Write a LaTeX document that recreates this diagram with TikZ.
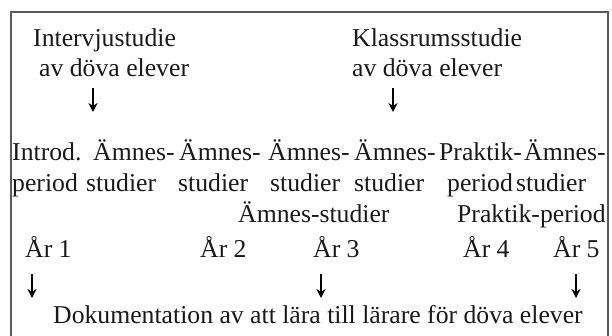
\documentclass[tikz,border=0pt]{standalone}
\usepackage{fontspec}
\setmainfont{Liberation Serif}
\usetikzlibrary{arrows.meta}
\begin{document}
\begin{tikzpicture}[x=1pt,y=-1pt,
  txt/.style={inner sep=0pt,anchor=base west,font=\fontsize{25.7}{30}\selectfont,text=black!90},
  frameline/.style={draw=black!65,line width=1.2pt},
  downarrow/.style={draw=black,line width=2.2pt,-{Stealth[length=9pt,width=9pt]}}]
\useasboundingbox (0,0) rectangle (612,336);
% frame (open at the bottom)
\coordinate (fbl) at (11,340);
\coordinate (ftl) at (11,12);
\coordinate (ftr) at (608,12);
\coordinate (fbr) at (608,340);
\draw[frameline] (fbl) -- (ftl) -- (ftr) -- (fbr);
% top studies
\node[txt] (iv1) at (33,47) {Intervjustudie};
\node[txt] (iv2) at (39,77) {av döva elever};
\node[txt] (kr1) at (352,47) {Klassrumsstudie};
\node[txt] (kr2) at (352,77) {av döva elever};
\coordinate (a1s) at (93,88);
\coordinate (a1e) at (93,112);
\coordinate (a2s) at (393,88);
\coordinate (a2e) at (393,112);
\draw[downarrow] (a1s) -- (a1e);
\draw[downarrow] (a2s) -- (a2e);
% periods row 1
\node[txt] (r1a) at (12,161) {Introd.};
\node[txt] (r1b) at (93,161) {Ämnes-};
\node[txt] (r1c) at (179,161) {Ämnes-};
\node[txt] (r1d) at (268,161) {Ämnes-};
\node[txt] (r1e) at (354,161) {Ämnes-};
\node[txt] (r1f) at (439,161) {Praktik-};
\node[txt] (r1g) at (524,161) {Ämnes-};
% row 2
\node[txt] (r2a) at (12,192) {period};
\node[txt] (r2b) at (86,192) {studier};
\node[txt] (r2c) at (178,192) {studier};
\node[txt] (r2d) at (270,192) {studier};
\node[txt] (r2e) at (354,192) {studier};
\node[txt] (r2f) at (447,192) {period};
\node[txt] (r2g) at (516,192) {studier};
% row 3
\node[txt] (r3a) at (238,223) {Ämnes-studier};
\node[txt] (r3b) at (457,223) {Praktik-period};
% years
\node[txt] (y1) at (25,258) {År 1};
\node[txt] (y2) at (200,258) {År 2};
\node[txt] (y3) at (313,258) {År 3};
\node[txt] (y4) at (463,258) {År 4};
\node[txt] (y5) at (553,258) {År 5};
\coordinate (b1s) at (32,274);
\coordinate (b1e) at (32,298);
\coordinate (b2s) at (321,274);
\coordinate (b2e) at (321,298);
\coordinate (b3s) at (576,274);
\coordinate (b3e) at (576,298);
\draw[downarrow] (b1s) -- (b1e);
\draw[downarrow] (b2s) -- (b2e);
\draw[downarrow] (b3s) -- (b3e);
% documentation
\node[txt] (doc) at (53,323) {Dokumentation av att lära till lärare för döva elever};
\end{tikzpicture}
\end{document}
